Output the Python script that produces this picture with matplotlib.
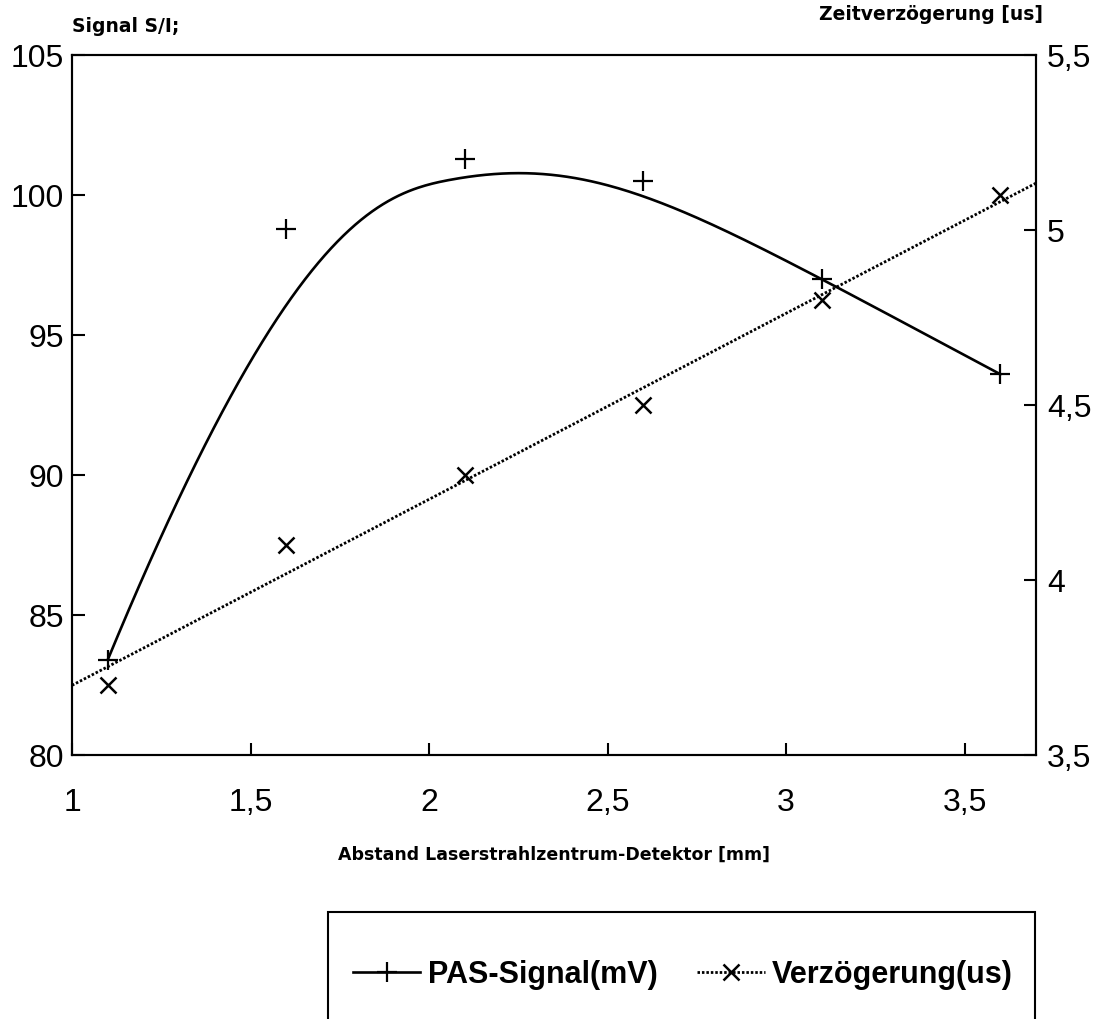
import numpy as np
import matplotlib.pyplot as plt
from matplotlib.lines import Line2D
from matplotlib.patches import Rectangle

plt.rcParams['font.family'] = ['Liberation Sans', 'DejaVu Sans']

# Messwerte
abstand = [1.1, 1.6, 2.1, 2.6, 3.1, 3.6]
pas_signal = [83.4, 98.8, 101.3, 100.5, 97.0, 93.6]
verzoegerung = [3.7, 4.1, 4.3, 4.5, 4.8, 5.1]

x_ticks = [1, 1.5, 2, 2.5, 3, 3.5]
x_ticklabels = ['1', '1,5', '2', '2,5', '3', '3,5']
y_left_ticks = [80, 85, 90, 95, 100, 105]
y_right_ticks = [3.5, 4, 4.5, 5, 5.5]
y_right_ticklabels = ['3,5', '4', '4,5', '5', '5,5']


# clamped cubic B-spline with the data points as control points
def bspline_curve(px, py, degree=3, num=300):
    px = np.asarray(px, dtype=float)
    py = np.asarray(py, dtype=float)
    n = len(px)
    knots = np.concatenate([np.zeros(degree + 1),
                            np.arange(1, n - degree),
                            np.full(degree + 1, n - degree)]).astype(float)
    u = np.linspace(0, n - degree, num)

    def basis(i, k):
        if k == 0:
            res = ((knots[i] <= u) & (u < knots[i + 1])).astype(float)
            if knots[i] < knots[i + 1] and knots[i + 1] == knots[-1]:
                res[u == knots[-1]] = 1.0
            return res
        out = np.zeros_like(u)
        d1 = knots[i + k] - knots[i]
        if d1 > 0:
            out += (u - knots[i]) / d1 * basis(i, k - 1)
        d2 = knots[i + k + 1] - knots[i + 1]
        if d2 > 0:
            out += (knots[i + k + 1] - u) / d2 * basis(i + 1, k - 1)
        return out

    B = np.array([basis(i, degree) for i in range(n)])
    return B.T @ px, B.T @ py


fig = plt.figure(figsize=(10.96, 10.19), dpi=100)
ax = fig.add_axes([0.0657, 0.259, 0.8796, 0.687])
ax2 = ax.twinx()

lw_axis = 1.5
for a in (ax, ax2):
    for s in a.spines.values():
        s.set_linewidth(lw_axis)

# PAS signal: smooth curve + markers
cx, cy = bspline_curve(abstand, pas_signal)
ax.plot(cx, cy, color='black', lw=1.9)
ax.plot(abstand, pas_signal, linestyle='none', marker='+', ms=15, mew=1.6, color='black')

ax.set_xlim(1, 3.7)
ax.set_ylim(80, 105)

# Verzoegerung: markers + linear fit over full width
ax2.plot(abstand, verzoegerung, linestyle='none', marker='x', ms=12, mew=1.8, color='black')
coef = np.polyfit(abstand, verzoegerung, 1)
xs = np.array(ax.get_xlim())
ax2.plot(xs, np.polyval(coef, xs), color='black', lw=2.0, linestyle=(0, (0.9, 0.7)))
ax2.set_ylim(3.5, 5.5)

ax.set_xticks(x_ticks)
ax.set_xticklabels(x_ticklabels)
ax.set_yticks(y_left_ticks)
ax2.set_yticks(y_right_ticks)
ax2.set_yticklabels(y_right_ticklabels)

ax.tick_params(axis='x', direction='in', length=9, width=1.5, labelsize=23, pad=24, top=False)
ax.tick_params(axis='y', direction='in', length=9, width=1.5, labelsize=23, pad=6, right=False)
ax2.tick_params(axis='y', direction='in', length=9, width=1.5, labelsize=23, pad=8)

label_font = {'family': 'DejaVu Sans', 'weight': 'bold'}
fig.text(0.0657, 1 - 27 / 1019, 'Signal S/I;', fontsize=13.5, fontdict=label_font,
         ha='left', va='center')
fig.text(1043 / 1096, 1 - 15 / 1019, 'Zeitverzögerung [us]', fontsize=13.5, fontdict=label_font,
         ha='right', va='center')
fig.text(554 / 1096, 1 - 855 / 1019, 'Abstand Laserstrahlzentrum-Detektor [mm]',
         fontsize=12.5, fontdict=label_font, ha='center', va='center')

# Legend box (runs off the bottom edge)
fig.patches.append(Rectangle((328 / 1096, -0.05), (1035 - 328) / 1096, 0.05 + 1 - 912 / 1019,
                             transform=fig.transFigure, fill=False, lw=1.5, ec='black'))

handles = [
    Line2D([], [], color='black', lw=1.9, marker='+', ms=15, mew=1.6),
    Line2D([], [], color='black', lw=2.0, linestyle=(0, (0.9, 0.7)), marker='x', ms=12, mew=1.8),
]
fig.legend(handles, ['PAS-Signal(mV)', 'Verzögerung(us)'], loc='center',
           bbox_to_anchor=(683 / 1096, 1 - 975 / 1019), ncol=2, frameon=False,
           prop={'size': 22, 'weight': 'bold'}, handlelength=2.2, handletextpad=0.25,
           columnspacing=1.3, numpoints=1)

fig.savefig('out.png', dpi=100)
